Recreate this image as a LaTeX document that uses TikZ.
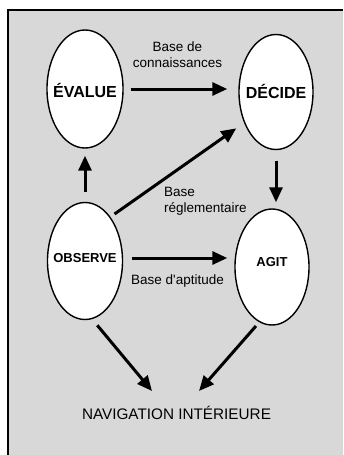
\documentclass[tikz,border=0pt]{standalone}
\usepackage{fontspec}
\setmainfont{Liberation Sans}
\usetikzlibrary{arrows.meta,shapes,positioning}
\definecolor{fond}{RGB}{216,216,216}

\begin{document}
\begin{tikzpicture}[x=1pt,y=-1pt,
        etat/.style={ellipse,draw,fill=white,line width=1.4pt,inner sep=0pt,
          minimum width=75pt,minimum height=117pt},
        gros/.style={font=\bfseries\fontsize{16}{19}\selectfont,inner sep=0pt},
        petit/.style={font=\bfseries\fontsize{13}{15}\selectfont,inner sep=0pt},
        fleche/.style={line width=3pt,-{Triangle[length=15pt,width=13pt]}},
        etiq/.style={font=\fontsize{13.5}{16}\selectfont,inner sep=0pt}]
        \useasboundingbox (0,0) rectangle (343,455);
        \fill[fond] (8,10) rectangle (343,455);
        \draw[line width=2pt] (8,455) -- (8,10) -- (343,10);
        \node[etat,minimum width=76pt,minimum height=118pt,label={[gros,yshift=-1pt]center:ÉVALUE}] (evalue) at (85,89) {};
        \node[etat,minimum width=74pt,minimum height=115pt,label={[gros,yshift=1pt]center:DÉCIDE}] (decide) at (276,92) {};
        \node[etat,label={[petit,yshift=3pt]center:OBSERVE}] (observe) at (85,261) {};
        \node[etat,minimum width=74pt,minimum height=116pt,label={[petit,yshift=5pt]center:AGIT}] (agit) at (272,267) {};
        \node[etiq,font=\fontsize{15.3}{18}\selectfont,anchor=base] (nav) at (176.5,419.5) {NAVIGATION INTÉRIEURE};
        \node[etiq,align=center] (bconn) at (177.5,54.3) {Base de\\connaissances};
        \node[etiq,align=left,anchor=north west] (bregl) at (164,187) {Base\\réglementaire};
        \node[etiq,anchor=base] (bapt) at (177.5,284) {Base d\textquotesingle aptitude};
        \draw[fleche,shorten <=7pt,shorten >=11pt] (evalue.east) -- (evalue.east -| decide.west);
        \draw[fleche,shorten <=9.5pt,shorten >=7pt] (observe.north) -- (observe.north |- evalue.south);
        \draw[fleche,shorten <=10.5pt,shorten >=6pt] (decide.south) -- (decide.south |- agit.north);
        \draw[fleche,shorten <=8.5pt,shorten >=7pt] ([yshift=3pt]observe.east) -- ([yshift=3pt]observe.east -| agit.west);
        \draw[fleche,shorten <=5pt,shorten >=9.5pt] (observe.60) -- (decide.224);
        \draw[fleche,shorten <=8pt] (observe.-83) -- ([xshift=-24.5pt,yshift=28.5pt]nav.base);
        \draw[fleche,shorten <=5pt] (agit.-103) -- ([xshift=22.5pt,yshift=28.5pt]nav.base);
      \end{tikzpicture}
\end{document}
